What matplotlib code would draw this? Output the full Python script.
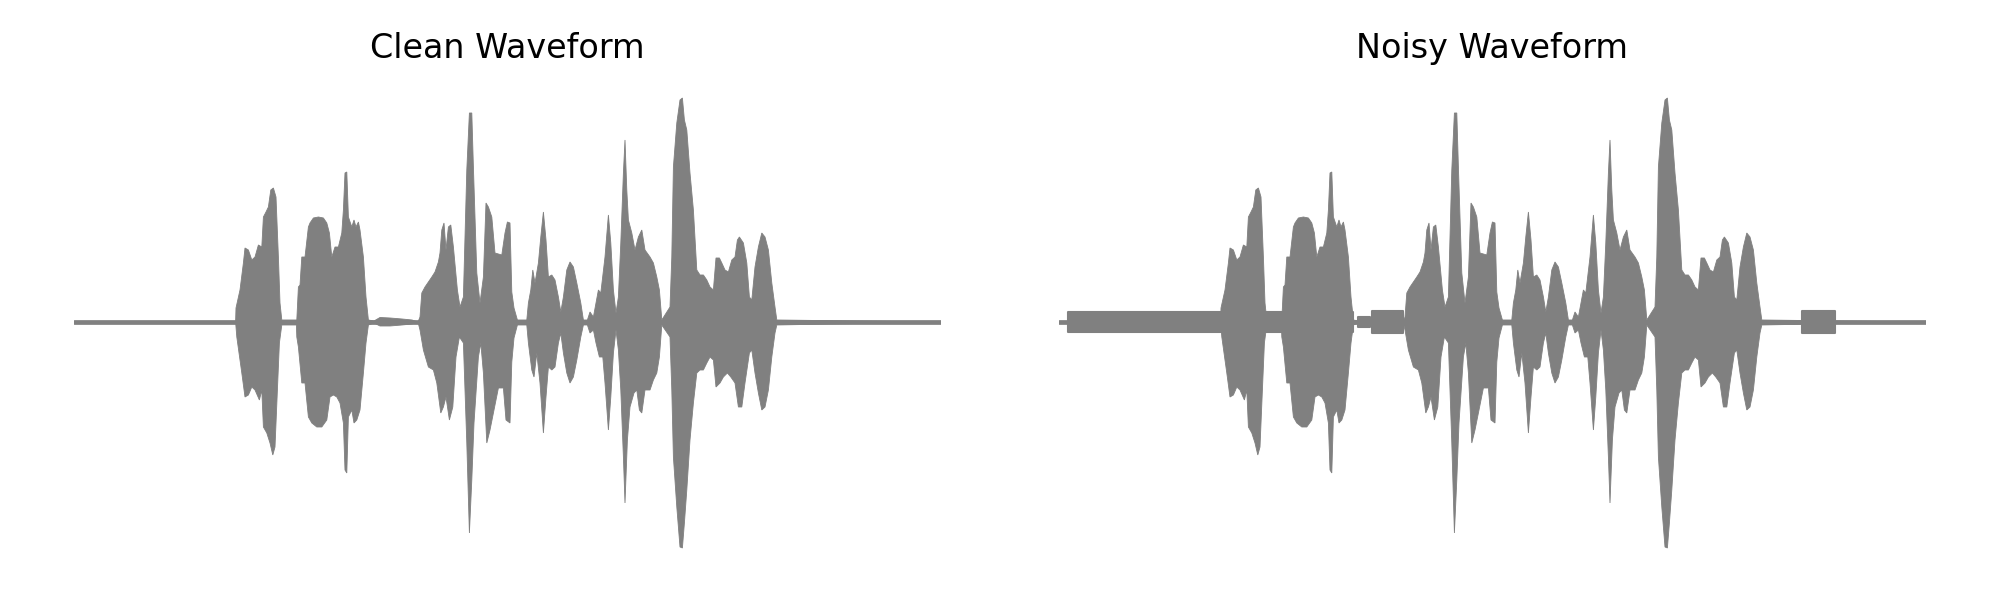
import numpy as np
import matplotlib
matplotlib.use("Agg")
import matplotlib.pyplot as plt

# Envelope of the clean waveform (time in s, amplitude)
duration = 4.335
upper_t = [0.000, 0.808, 0.810, 0.830, 0.847, 0.855, 0.872, 0.889, 0.905, 0.922, 0.939, 0.947,
           0.960, 0.972, 0.984, 0.997, 1.010, 1.022, 1.030, 1.039, 1.114, 1.122, 1.130, 1.139,
           1.155, 1.172, 1.180, 1.197, 1.222, 1.247, 1.264, 1.277, 1.289, 1.305, 1.322, 1.339,
           1.347, 1.355, 1.364, 1.372, 1.389, 1.400, 1.410, 1.422, 1.430, 1.447, 1.460, 1.472,
           1.500, 1.530, 1.580, 1.640, 1.690, 1.720,
           1.730, 1.739, 1.755, 1.772, 1.789, 1.805, 1.822, 1.830, 1.839, 1.850, 1.860, 1.872,
           1.884, 1.897, 1.917, 1.930, 1.947, 1.964, 1.977, 1.989, 1.997, 2.014, 2.030, 2.047,
           2.060, 2.072, 2.089, 2.105, 2.139, 2.155, 2.167, 2.180, 2.189, 2.200, 2.217,
           2.264, 2.272, 2.284, 2.294, 2.305, 2.322, 2.334, 2.347, 2.360, 2.372, 2.389, 2.405,
           2.422, 2.434, 2.447, 2.464, 2.480, 2.497, 2.514, 2.534, 2.547,
           2.567, 2.580, 2.597, 2.610, 2.622, 2.634, 2.655, 2.672, 2.684, 2.697, 2.710, 2.722,
           2.734, 2.747, 2.755, 2.764, 2.772, 2.789, 2.805, 2.822, 2.839, 2.855, 2.880, 2.897,
           2.914, 2.927, 2.939,
           2.980, 2.989, 2.997, 3.014, 3.030, 3.042, 3.052, 3.064, 3.080, 3.097, 3.114, 3.130,
           3.147, 3.164, 3.180, 3.197, 3.210, 3.227, 3.239, 3.255, 3.272, 3.289, 3.305, 3.317,
           3.327, 3.347, 3.364, 3.377, 3.389, 3.405, 3.422, 3.439, 3.455, 3.472, 3.489, 3.505,
           3.514, 4.335]
upper_a = [0.0, 0.0, 0.056, 0.128, 0.236, 0.296, 0.288, 0.248, 0.26, 0.308, 0.30, 0.42,
           0.44, 0.46, 0.528, 0.536, 0.50, 0.26, 0.076, 0.008, 0.008, 0.14, 0.148, 0.26,
           0.26, 0.38, 0.396, 0.416, 0.42, 0.416, 0.396, 0.356, 0.26, 0.30, 0.30, 0.356,
           0.448, 0.596, 0.60, 0.42, 0.38, 0.408, 0.38, 0.40, 0.368, 0.26, 0.10, 0.008,
           0.004, 0.018, 0.016, 0.012, 0.008, 0.0,
           0.02, 0.116, 0.14, 0.16, 0.18, 0.20, 0.24, 0.276, 0.368, 0.396, 0.288, 0.38,
           0.388, 0.30, 0.128, 0.06, 0.10, 0.608, 0.836, 0.836, 0.62, 0.196, 0.076, 0.18,
           0.476, 0.46, 0.42, 0.276, 0.268, 0.356, 0.40, 0.396, 0.12, 0.056, 0.008,
           0.008, 0.076, 0.128, 0.208, 0.156, 0.236, 0.34, 0.44, 0.328, 0.18, 0.188, 0.168,
           0.10, 0.04, 0.10, 0.208, 0.24, 0.22, 0.156, 0.076, 0.008,
           0.008, 0.04, 0.02, 0.076, 0.128, 0.116, 0.26, 0.428, 0.316, 0.128, 0.036, 0.10,
           0.316, 0.596, 0.728, 0.528, 0.408, 0.356, 0.288, 0.34, 0.368, 0.288, 0.26, 0.236,
           0.18, 0.128, 0.008,
           0.06, 0.26, 0.62, 0.796, 0.888, 0.896, 0.808, 0.768, 0.596, 0.448, 0.208, 0.188,
           0.188, 0.168, 0.14, 0.128, 0.256, 0.256, 0.236, 0.208, 0.20, 0.248, 0.26, 0.328,
           0.34, 0.316, 0.236, 0.10, 0.088, 0.22, 0.30, 0.356, 0.34, 0.288, 0.156, 0.06,
           0.008, 0.0]

lower_t = [0.000, 0.808, 0.814, 0.839, 0.855, 0.872, 0.889, 0.905, 0.927, 0.939, 0.947, 0.964,
           0.980, 0.994, 1.005, 1.017, 1.027, 1.039, 1.112, 1.114, 1.122, 1.139, 1.155, 1.172,
           1.189, 1.214, 1.239, 1.264, 1.280, 1.297, 1.314, 1.330, 1.347, 1.355, 1.364, 1.372,
           1.389, 1.400, 1.414, 1.430, 1.447, 1.460, 1.472,
           1.500, 1.530, 1.580, 1.640, 1.690, 1.720,
           1.730, 1.747, 1.772, 1.797, 1.814, 1.834, 1.847, 1.860, 1.877, 1.894, 1.910, 1.927,
           1.947, 1.964, 1.977, 1.989, 2.000, 2.022, 2.034, 2.047, 2.064, 2.080, 2.100, 2.122,
           2.147, 2.160, 2.180, 2.189, 2.200, 2.217,
           2.264, 2.272, 2.289, 2.300, 2.314, 2.330, 2.347, 2.360, 2.372, 2.389, 2.405, 2.422,
           2.434, 2.447, 2.464, 2.480, 2.497, 2.514, 2.534, 2.547,
           2.567, 2.580, 2.597, 2.610, 2.627, 2.644, 2.655, 2.672, 2.684, 2.697, 2.710, 2.722,
           2.734, 2.747, 2.755, 2.767, 2.780, 2.800, 2.814, 2.827, 2.839, 2.855, 2.880, 2.897,
           2.914, 2.927, 2.939,
           2.980, 2.989, 2.997, 3.014, 3.030, 3.042, 3.052, 3.064, 3.080, 3.097, 3.114, 3.130,
           3.147, 3.164, 3.180, 3.197, 3.210, 3.230, 3.247, 3.267, 3.284, 3.305, 3.322, 3.339,
           3.355, 3.377, 3.389, 3.405, 3.422, 3.439, 3.455, 3.472, 3.489, 3.505, 3.514, 4.335]
lower_a = [0.0, 0.0, 0.06, 0.204, 0.30, 0.292, 0.26, 0.272, 0.312, 0.272, 0.42, 0.444,
           0.484, 0.532, 0.50, 0.272, 0.084, 0.012, 0.012, 0.06, 0.10, 0.244, 0.244, 0.38,
           0.404, 0.42, 0.42, 0.392, 0.30, 0.292, 0.30, 0.324, 0.404, 0.592, 0.604, 0.38,
           0.352, 0.404, 0.392, 0.352, 0.204, 0.084, 0.012,
           0.004, 0.016, 0.016, 0.012, 0.008, 0.0,
           0.032, 0.112, 0.18, 0.192, 0.244, 0.364, 0.34, 0.30, 0.392, 0.34, 0.14, 0.06,
           0.084, 0.484, 0.844, 0.632, 0.404, 0.14, 0.084, 0.204, 0.484, 0.432, 0.352, 0.264,
           0.264, 0.392, 0.404, 0.16, 0.064, 0.012,
           0.012, 0.084, 0.192, 0.22, 0.124, 0.244, 0.444, 0.30, 0.18, 0.192, 0.18, 0.084,
           0.044, 0.124, 0.204, 0.244, 0.22, 0.152, 0.06, 0.012,
           0.012, 0.044, 0.032, 0.084, 0.14, 0.14, 0.244, 0.432, 0.30, 0.124, 0.032, 0.112,
           0.272, 0.54, 0.724, 0.472, 0.34, 0.284, 0.272, 0.352, 0.364, 0.272, 0.272, 0.232,
           0.204, 0.14, 0.012,
           0.06, 0.272, 0.54, 0.74, 0.90, 0.904, 0.804, 0.672, 0.472, 0.324, 0.204, 0.192,
           0.192, 0.164, 0.14, 0.152, 0.26, 0.244, 0.22, 0.204, 0.22, 0.244, 0.34, 0.34,
           0.244, 0.124, 0.112, 0.204, 0.284, 0.352, 0.34, 0.272, 0.14, 0.044, 0.012, 0.0]

# Added noise bursts in the noisy version (start s, end s, amplitude)
noise_start = [0.045, 1.495, 1.564, 3.714]
noise_end = [1.470, 1.555, 1.722, 3.880]
noise_amp = [0.040, 0.020, 0.044, 0.044]

titles = ["Clean Waveform", "Noisy Waveform"]
color = "gray"

fig = plt.figure(figsize=(20, 6), dpi=100)
ax1 = fig.add_axes([0.037, 0.0467, 0.4335, 0.8333])
ax2 = fig.add_axes([0.5295, 0.0467, 0.4335, 0.8333])

env_t = np.concatenate([upper_t, lower_t[::-1]])
env_a = np.concatenate([upper_a, -np.array(lower_a)[::-1]])

for i, ax in enumerate([ax1, ax2]):
    ax.plot([0, duration], [0, 0], color=color, lw=3.4, solid_capstyle="round")
    ax.fill(env_t, env_a, color=color, lw=0.6)
    if i == 1:
        for s, e, a in zip(noise_start, noise_end, noise_amp):
            ax.fill_between([s, e], [-a, -a], [a, a], color=color, lw=1.5, joinstyle="round")
    ax.set_xlim(0, duration)
    ax.set_ylim(-1, 1)
    ax.set_title(titles[i], fontsize=24, pad=10)
    ax.axis("off")

fig.savefig("out.png", dpi=100)
